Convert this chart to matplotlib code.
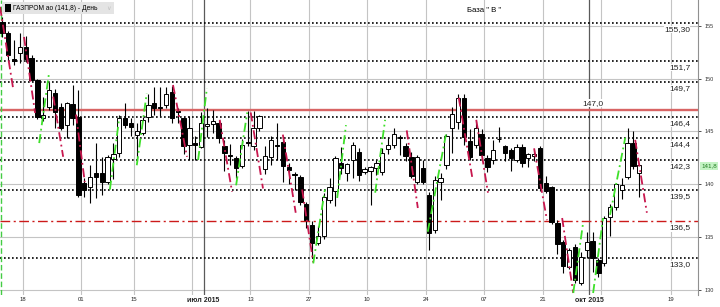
import matplotlib
matplotlib.use("Agg")
import matplotlib.pyplot as plt
from matplotlib.patches import Rectangle
import numpy as np

# ---------------- data ----------------
opens = [155.4, 154.3, 151.9, 152.4, 153.0, 152.0, 149.9, 146.3, 147.3, 148.6,
         147.3, 145.6, 147.6, 146.4, 140.1, 139.7, 141.1, 141.1, 140.2, 142.4,
         143.0, 146.3, 145.8, 144.7, 144.9, 146.4, 147.7, 147.3, 147.5, 148.7,
         146.9, 146.3, 143.7, 143.9, 143.5, 145.5, 145.7, 145.8, 143.6, 142.8,
         142.5, 141.7, 144.0, 143.6, 145.3, 141.4, 142.6, 143.7, 144.0, 141.6,
         141.0, 140.7, 138.1, 136.1, 134.4, 135.1, 138.5, 139.4, 142.0, 141.1,
         142.3, 143.1, 141.2, 141.3, 141.5, 141.2, 143.3, 143.7, 144.5, 143.6,
         142.6, 140.2, 141.5, 139.0, 135.7, 140.2, 141.8, 145.3, 145.9, 148.2,
         144.1, 143.7, 144.8, 142.5, 142.3, 144.3, 143.6, 143.2, 142.3, 143.5,
         142.5, 142.7, 143.4, 140.1, 139.7, 136.3, 134.5, 132.2, 134.1, 130.6,
         133.8, 134.6, 132.8, 132.5, 136.9, 137.8, 139.5, 140.7, 143.9, 141.1]
highs = [155.8, 154.5, 153.7, 154.3, 154.0, 152.2, 150.0, 148.3, 149.7, 149.0,
         147.7, 147.8, 149.4, 148.9, 140.6, 141.8, 143.9, 142.6, 142.8, 143.9,
         146.6, 147.7, 146.3, 145.8, 146.4, 148.5, 149.2, 149.2, 149.2, 149.3,
         147.2, 146.4, 146.5, 144.6, 146.8, 147.2, 147.0, 146.1, 144.2, 143.8,
         142.7, 144.3, 146.9, 146.9, 146.6, 143.6, 144.6, 145.8, 144.2, 142.0,
         141.2, 140.9, 138.3, 136.5, 136.0, 139.2, 140.6, 142.7, 143.5, 142.0,
         144.0, 143.4, 141.6, 141.7, 142.3, 143.4, 144.5, 145.3, 144.7, 143.9,
         143.1, 142.8, 142.3, 139.3, 140.8, 141.1, 144.8, 147.3, 148.5, 148.5,
         145.2, 146.0, 145.2, 142.8, 144.2, 145.4, 143.7, 143.4, 143.8, 143.8,
         143.0, 143.2, 143.6, 140.8, 139.8, 136.6, 134.7, 134.0, 134.3, 133.6,
         135.5, 135.5, 133.0, 137.0, 138.1, 140.1, 140.6, 145.3, 145.0, 141.9]
lows = [153.9, 151.8, 151.3, 151.5, 151.6, 149.8, 146.2, 146.0, 147.0, 145.3,
        145.1, 144.4, 145.6, 138.8, 138.8, 138.2, 138.7, 139.0, 140.0, 140.5,
        142.6, 145.3, 144.6, 142.5, 144.7, 145.9, 146.6, 146.5, 147.2, 145.8,
        145.8, 142.9, 142.3, 142.3, 143.4, 144.5, 144.9, 143.9, 141.3, 141.8,
        140.6, 141.5, 143.6, 143.2, 145.0, 141.0, 141.8, 142.3, 140.2, 140.0,
        139.5, 138.0, 135.9, 133.0, 134.2, 134.8, 138.2, 137.9, 141.0, 140.3,
        140.6, 140.3, 141.0, 138.0, 140.9, 140.9, 142.9, 143.4, 142.8, 142.2,
        140.6, 140.0, 140.0, 133.8, 135.4, 138.5, 141.4, 143.0, 145.2, 143.7,
        142.3, 143.4, 142.3, 141.2, 141.9, 144.0, 142.2, 141.3, 142.1, 141.6,
        141.6, 142.2, 139.4, 139.2, 136.2, 133.4, 131.6, 132.0, 130.6, 130.5,
        133.0, 131.7, 131.2, 132.3, 135.1, 137.6, 138.6, 140.5, 141.4, 138.8]
closes = [154.3, 152.2, 151.7, 153.0, 151.9, 149.9, 146.4, 146.6, 148.9, 146.8,
          145.3, 147.7, 146.3, 139.0, 139.5, 140.7, 140.7, 140.2, 142.6, 142.9,
          146.3, 145.6, 145.4, 145.0, 146.1, 147.5, 147.2, 147.2, 148.5, 146.3,
          146.8, 143.6, 145.3, 143.7, 145.8, 145.7, 146.0, 144.4, 143.0, 142.7,
          141.5, 143.7, 143.9, 145.3, 146.5, 142.7, 144.2, 143.6, 141.7, 141.35,
          140.9, 138.3, 136.6, 134.4, 135.1, 138.8, 139.7, 142.5, 141.5, 141.9,
          143.7, 140.9, 141.4, 141.6, 142.0, 143.0, 143.7, 144.8, 144.4, 142.7,
          140.8, 142.6, 140.2, 135.4, 140.4, 140.6, 144.6, 146.7, 148.2, 144.5,
          142.6, 145.3, 142.8, 141.6, 143.2, 144.25, 143.0, 142.5, 143.5, 142.0,
          142.9, 142.9, 139.6, 139.4, 136.4, 134.3, 132.3, 133.8, 130.9, 133.1,
          134.5, 133.0, 131.6, 136.8, 137.8, 140.0, 139.9, 143.9, 141.7, 141.8]

# date ticks (trading-day index; future area in calendar days)
tick_index = [3, 13, 22, 32, 42, 52, 62, 72, 82, 92, 102, 114]
tick_labels = ["18", "01", "15", "", "13", "27", "10", "24", "07", "21", "", "19"]
month_index = [34, 100]
month_labels = ["июл 2015", "окт 2015"]

# horizontal levels
dotted_levels = [155.30, 151.7, 149.7, 146.4, 144.4, 142.3, 139.5, 133.0]
dotted_labels = ["155,30", "151,7", "149,7", "146,4", "144,4", "142,3", "139,5", "133,0"]
red_level, red_label = 147.0, "147,0"
dash_level, dash_label = 136.5, "136,5"

# indicator segments: (start index, start price, end index, end price)
red_segments = [(-0.4, 156.8, 1.8, 149.2), (3.7, 153.95, 5.6, 146.75), (8.7, 148.3, 10.4, 142.6),
                (12.6, 146.6, 14.1, 140.2), (29.2, 149.4, 31.6, 142.6), (37.2, 146.1, 39.3, 139.3),
                (42.5, 146.8, 44.6, 139.6), (48.0, 144.7, 50.2, 137.3), (51.3, 139.5, 53.2, 132.6),
                (69.2, 145.1, 71.1, 137.75), (78.1, 148.2, 80.4, 140.7), (81.1, 146.1, 83.1, 139.2),
                (91.0, 143.4, 93.2, 136.6), (95.8, 136.8, 97.7, 129.7), (108.3, 144.2, 110.3, 137.3)]
green_segments = [(6.3, 143.9, 8.0, 150.6), (18.4, 139.5, 20.0, 146.3), (23.0, 141.8, 24.7, 148.6),
                  (33.5, 142.3, 35.0, 149.1), (40.0, 139.9, 41.9, 146.8), (53.2, 132.5, 55.2, 139.5),
                  (57.3, 138.7, 58.8, 145.6), (63.8, 139.2, 65.5, 146.1), (72.8, 135.5, 75.9, 144.7),
                  (97.7, 129.7, 99.4, 136.4), (101.1, 129.7, 102.8, 136.8), (104.0, 137.1, 106.6, 144.4)]

grid_prices = [130, 135, 140, 145, 150, 155]
last_price_label = "141,8"
title_text = "ГАЗПРОМ ао (141,8) - День"
note_text = 'База " В "'

# ---------------- figure ----------------
W, H = 720, 307
fig = plt.figure(figsize=(W / 100, H / 100), dpi=100)
ax = fig.add_axes([0, 1 - 295 / H, 698 / W, 295 / H])
ax.set_xlim(-0.41, 119.05)
ax.set_ylim(129.51, 157.45)
FONT = ["Liberation Sans", "DejaVu Sans"]
grid_shift = 0.45

for p in grid_prices:
    ax.axhline(p, color="#c4c4c4", lw=0.8, zorder=0)
for t in tick_index:
    ax.axvline(t + grid_shift, color="#c4c4c4", lw=0.8, zorder=0)
for t in month_index:
    ax.axvline(t + grid_shift, color="#5a5a5a", lw=0.9, zorder=0.5)

# levels
for v in dotted_levels:
    ax.axhline(v, color="black", lw=1.2, ls=(0, (1, 1.4)), zorder=1)
ax.axhline(red_level, color="#d86464", lw=1.7, zorder=1)
ax.axhline(dash_level, color="#cc1a1a", lw=1.0, ls=(0, (7, 2.5, 1.5, 2.5)), zorder=1)

# candles
x = np.arange(len(opens))
o = np.array(opens); c = np.array(closes); h = np.array(highs); l = np.array(lows)
up = c >= o
ax.vlines(x, l, h, color="black", lw=0.8, zorder=2)
bottom = np.minimum(o, c)
height = np.maximum(np.abs(c - o), 0.08)
ax.bar(x[up], height[up], bottom=bottom[up], width=0.74, color="white",
       edgecolor="black", lw=0.7, zorder=3)
ax.bar(x[~up], height[~up], bottom=bottom[~up], width=0.74, color="black",
       edgecolor="black", lw=0.7, zorder=3)

# indicator segments
for x0, y0, x1, y1 in red_segments:
    ax.plot([x0, x1], [y0, y1], color="#c8174e", lw=1.3, ls=(0, (5, 2, 1, 2)), zorder=4)
for x0, y0, x1, y1 in green_segments:
    ax.plot([x0, x1], [y0, y1], color="#3ee02a", lw=1.3, ls=(0, (5, 2, 1, 2)), zorder=4)

# level labels
lab_x = 117.7
for v, s in zip(dotted_levels + [dash_level], dotted_labels + [dash_label]):
    ax.annotate(s, xy=(lab_x, v), xytext=(0, -2.2), textcoords="offset points",
                ha="right", va="top", fontsize=6, family=FONT, color="#222222",
                bbox=dict(facecolor="white", edgecolor="none", pad=0.2), zorder=5)
ax.annotate(red_label, xy=(101.1, red_level), xytext=(0, 2.6), textcoords="offset points",
            ha="center", va="bottom", fontsize=6, family=FONT, color="#222222",
            bbox=dict(facecolor="white", edgecolor="none", pad=0.2), zorder=5)

# axes styling
for s in ["top", "bottom", "left"]:
    ax.spines[s].set_visible(False)
ax.spines["right"].set_color("#909090")
ax.spines["right"].set_linewidth(0.8)
ax.yaxis.tick_right()
ax.set_yticks(grid_prices)
ax.set_yticklabels([str(p) for p in grid_prices])
ax.tick_params(axis="y", labelsize=4, length=2.5, pad=2, width=0.6, colors="#333333")
ax.set_xticks([t + grid_shift for t in tick_index] + [t + grid_shift for t in month_index])
ax.set_xticklabels(tick_labels + month_labels)
ax.tick_params(axis="x", labelsize=4.2, length=0, pad=1.5, colors="#222222")
for lab in ax.get_xticklabels():
    lab.set_family(FONT)
    if lab.get_text() in month_labels:
        lab.set_fontweight("bold")
        lab.set_fontsize(5)
for lab in ax.get_yticklabels():
    lab.set_family(FONT)
ax.axvline(-0.3, color="#44cc44", lw=1.0, ls=(0, (4, 2)), zorder=1)

# legend box (figure pixel coords)
fig.patches.append(Rectangle((2 / W, 1 - 14 / H), 112 / W, 12 / H, transform=fig.transFigure,
                             facecolor="#e4e4e4", edgecolor="none", zorder=10))
fig.patches.append(Rectangle((4.5 / W, 1 - 11.5 / H), 6 / W, 7 / H, transform=fig.transFigure,
                             facecolor="black", edgecolor="none", zorder=11))
fig.text(13 / W, 1 - 8 / H, title_text, fontsize=4.8, family=FONT,
         va="center", ha="left", color="black", zorder=12)
fig.text(108.5 / W, 1 - 8 / H, "∨", fontsize=4.5, family=["DejaVu Sans"],
         va="center", ha="center", color="#c0c0c0", zorder=12)
fig.text(484 / W, 1 - 11 / H, note_text, fontsize=5.6, family=FONT, ha="center", va="center")
fig.text(701 / W, 1 - 166 / H, last_price_label, fontsize=4.5, family=FONT, ha="left",
         va="center", color="#1d7a1d",
         bbox=dict(facecolor="#c4f3c4", edgecolor="none", pad=1.0))

fig.savefig("out.png", dpi=100)
